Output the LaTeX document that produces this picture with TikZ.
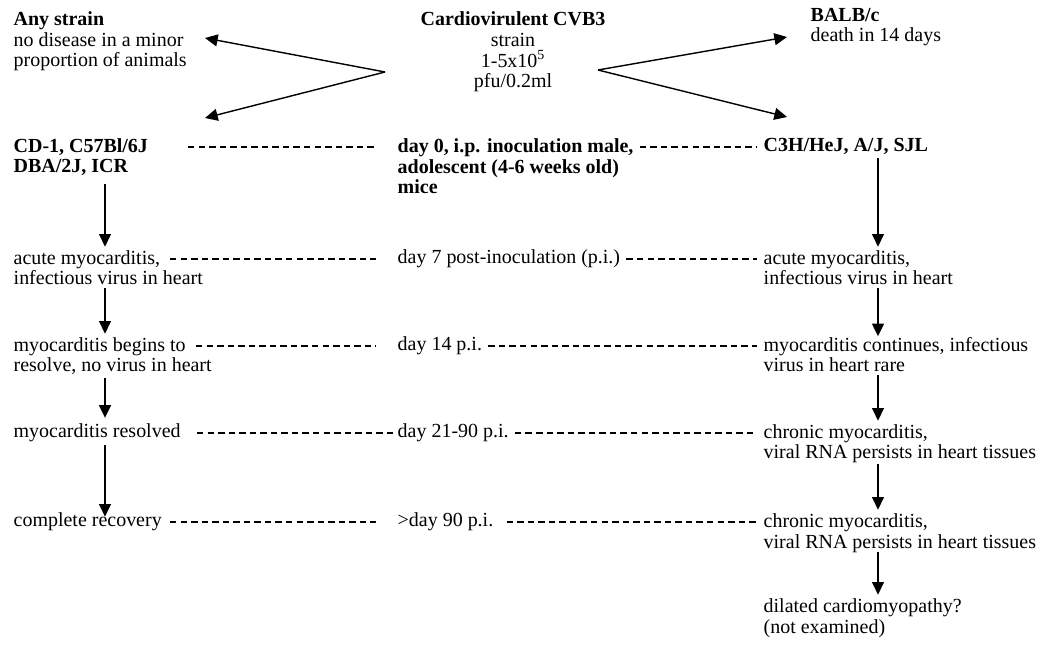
\documentclass[tikz,border=0pt]{standalone}
\usepackage{fontspec}
\setmainfont{Liberation Serif}
\usetikzlibrary{arrows.meta}

\begin{document}
\begin{tikzpicture}[x=0.025cm,y=-0.025cm,->,>={Triangle[length=9pt,width=8.5pt]},line width=1pt,
	plain node/.style={inner sep=0pt,anchor=base west,align=left,font=\fontsize{14.2}{14.9}\selectfont},
	bold node/.style={plain node,font=\fontsize{14.2}{14.9}\selectfont\bfseries},
	dash line/.style={-,dash pattern=on 4.6pt off 2.9pt,line width=1.1pt,shorten >=4pt}]

	\useasboundingbox (0,0) rectangle (1041,649);

	% top row (base = last line)
	\node[plain node] (any) at (13,67) {\textbf{Any strain}\\no disease in a minor\\proportion of animals};
	\node[plain node,align=center,anchor=base] (cvb) at (513,88) {\textbf{Cardiovirulent CVB3}\\strain\\1-5x10\textsuperscript{5}\\pfu/0.2ml};
	\node[plain node] (balb) at (810,42) {\textbf{BALB/c}\\death in 14 days};

	% day 0
	\node[bold node] (cd1) at (13,173) {CD-1, C57Bl/6J\\DBA/2J, ICR};
	\node[bold node] (day0) at (397,194) {day 0, i.p. inoculation male,\\adolescent (4-6 weeks old)\\mice};
	\node[bold node] (c3h) at (763,152) {C3H/HeJ, A/J, SJL};

	% day 7
	\node[plain node] (acuteL) at (13,285) {acute myocarditis,\\infectious virus in heart};
	\node[plain node] (day7) at (397,264) {day 7 post-inoculation (p.i.)};
	\node[plain node] (acuteR) at (763,285) {acute myocarditis,\\infectious virus in heart};

	% day 14
	\node[plain node] (beginL) at (13,372) {myocarditis begins to\\resolve, no virus in heart};
	\node[plain node] (day14) at (397,351) {day 14 p.i.};
	\node[plain node] (contR) at (763,372) {myocarditis continues, infectious\\virus in heart rare};

	% day 21-90
	\node[plain node] (resL) at (13,438) {myocarditis resolved};
	\node[plain node] (day21) at (397,438) {day 21-90 p.i.};
	\node[plain node] (chronR) at (763,459) {chronic myocarditis,\\viral RNA persists in heart tissues};

	% > day 90
	\node[plain node] (recL) at (13,527) {complete recovery};
	\node[plain node] (day90) at (397,527) {>day 90 p.i.};
	\node[plain node] (chronRR) at (763,548) {chronic myocarditis,\\viral RNA persists in heart tissues};

	\node[plain node] (dcm) at (763,633) {dilated cardiomyopathy?\\(not examined)};

	% forks from the inoculum
	\coordinate (lfork) at (385,72);
	\coordinate (rfork) at (598,70);
	\coordinate (anytip) at (205,38);
	\coordinate (cdtip) at (205,118);
	\coordinate (balbtip) at (787,37);
	\coordinate (c3htip) at (787,117);
	\draw (lfork) -- (anytip);
	\draw (lfork) -- (cdtip);
	\draw (rfork) -- (balbtip);
	\draw (rfork) -- (c3htip);

	% columns of the arrows
	\coordinate (lcol) at (105,0);
	\coordinate (rcol) at (878,0);

	\path[shorten <=1.5pt,shorten >=2pt]
		(cd1.south -| lcol) edge [shorten <=5pt] (acuteL.north -| lcol)
		(acuteL.south -| lcol) edge (beginL.north -| lcol)
		(beginL.south -| lcol) edge [shorten >=4pt] (resL.north -| lcol)
		(resL.south -| lcol) edge [shorten >=-3pt] (recL.north -| lcol)

		(c3h.south -| rcol) edge (acuteR.north -| rcol)
		(acuteR.south -| rcol) edge [shorten >=0pt] (contR.north -| rcol)
		(contR.south -| rcol) edge (chronR.north -| rcol)
		(chronR.south -| rcol) edge [shorten <=0pt] (chronRR.north -| rcol)
		(chronRR.south -| rcol) edge [shorten <=-1pt] (dcm.north -| rcol);

	% dashed links between the columns
	\coordinate (d0) at (188,147);
	\coordinate (d7) at (170,259);
	\coordinate (d14) at (196,346);
	\coordinate (d21) at (197,433);
	\coordinate (d90) at (170,522);
	\draw[dash line,shorten >=15pt] (d0) -- (d0 -| day0.west);
	\draw[dash line,shorten >=15pt] (d7) -- (d7 -| day7.west);
	\draw[dash line,shorten >=15pt] (d14) -- (d14 -| day14.west);
	\draw[dash line,shorten >=3pt] (d21) -- (d21 -| day21.west);
	\draw[dash line,shorten >=15pt] (d90) -- (d90 -| day90.west);
	\draw[dash line,shorten <=4pt] (d0 -| day0.east) -- (d0 -| c3h.west);
	\draw[dash line,shorten <=4pt] (d7 -| day7.east) -- (d7 -| acuteR.west);
	\draw[dash line,shorten <=4pt] (d14 -| day14.east) -- (d14 -| contR.west);
	\draw[dash line,shorten <=4pt] (d21 -| day21.east) -- (d21 -| chronR.west);
	\draw[dash line,shorten <=9pt] (d90 -| day90.east) -- (d90 -| chronRR.west);

\end{tikzpicture}
\end{document}
